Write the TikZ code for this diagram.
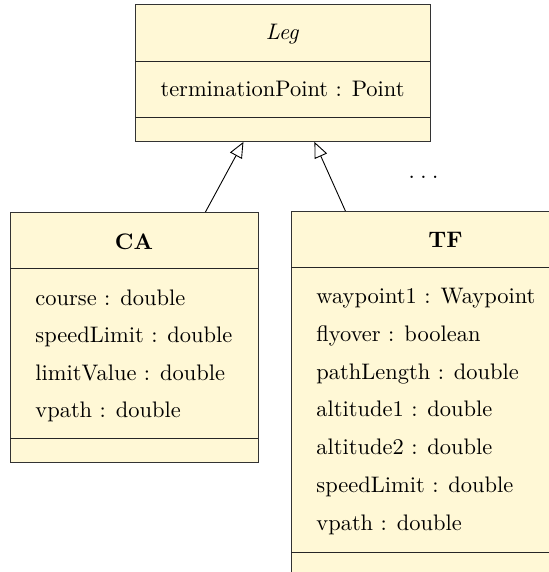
\documentclass[tikz,border=0pt]{standalone}
\usetikzlibrary{arrows.meta,calc}
\definecolor{umlfill}{RGB}{255,248,214}
\begin{document}
\begin{tikzpicture}[x=0.4454pt,y=-0.4454pt,
  umlbox/.style={draw=black!80,fill=umlfill,rectangle,inner sep=0,anchor=north west},
  sepline/.style={draw=black!85},
  title/.style={anchor=base,inner sep=0},
  attr/.style={anchor=base west,inner sep=0},
  inherit/.style={-{Triangle[open,length=7pt,width=6pt]},draw=black}]
\useasboundingbox (0,0) rectangle (549,572);
\clip (0,0) rectangle (549,572);
% Leg
\node[umlbox,minimum width=131.39pt,minimum height=61.02pt] (leg) at (135,4) {};
\draw[sepline] (135,61) -- (430,61);
\draw[sepline] (135,117) -- (430,117);
\node[title] (legt) at (282.5,39) {\textit{Leg}};
\node[title] (lega) at (282.5,96.5) {terminationPoint : Point};
% CA
\node[umlbox,minimum width=110.46pt,minimum height=111.35pt] (ca) at (10,212) {};
\draw[sepline] (10,268) -- (258,268);
\draw[sepline] (10,438.5) -- (258,438.5);
\node[title] (cat) at (134,249) {\textbf{CA}};
\node[attr] (ca1) at (35,305) {course : double};
\node[attr] (ca2) at (35,342.5) {speedLimit : double};
\node[attr] (ca3) at (35,380) {limitValue : double};
\node[attr] (ca4) at (35,417.5) {vpath : double};
% TF
\node[umlbox,minimum width=137.6pt,minimum height=173.3pt] (tf) at (291,211) {};
\draw[sepline] (291,267) -- (600,267);
\draw[sepline] (291,552) -- (600,552);
\node[title] (tft) at (445.5,247.5) {\textbf{TF}};
\node[attr] (tf1) at (316,303.5) {waypoint1 : Waypoint};
\node[attr] (tf2) at (316,341.25) {flyover : boolean};
\node[attr] (tf3) at (316,379) {pathLength : double};
\node[attr] (tf4) at (316,416.75) {altitude1 : double};
\node[attr] (tf5) at (316,454.5) {altitude2 : double};
\node[attr] (tf6) at (316,492.25) {speedLimit : double};
\node[attr] (tf7) at (316,530) {vpath : double};
% dots
\node[title] (more) at (423.5,178) {.\hspace{2.5pt}.\hspace{2.5pt}.};
% generalisations
\draw[inherit] ($(ca.north)+(71,0)$) -- ($(leg.south)+(-39.5,0)$);
\draw[inherit] ($(tf.north)+(-100.5,0)$) -- ($(leg.south)+(31.5,0)$);
\end{tikzpicture}
\end{document}
